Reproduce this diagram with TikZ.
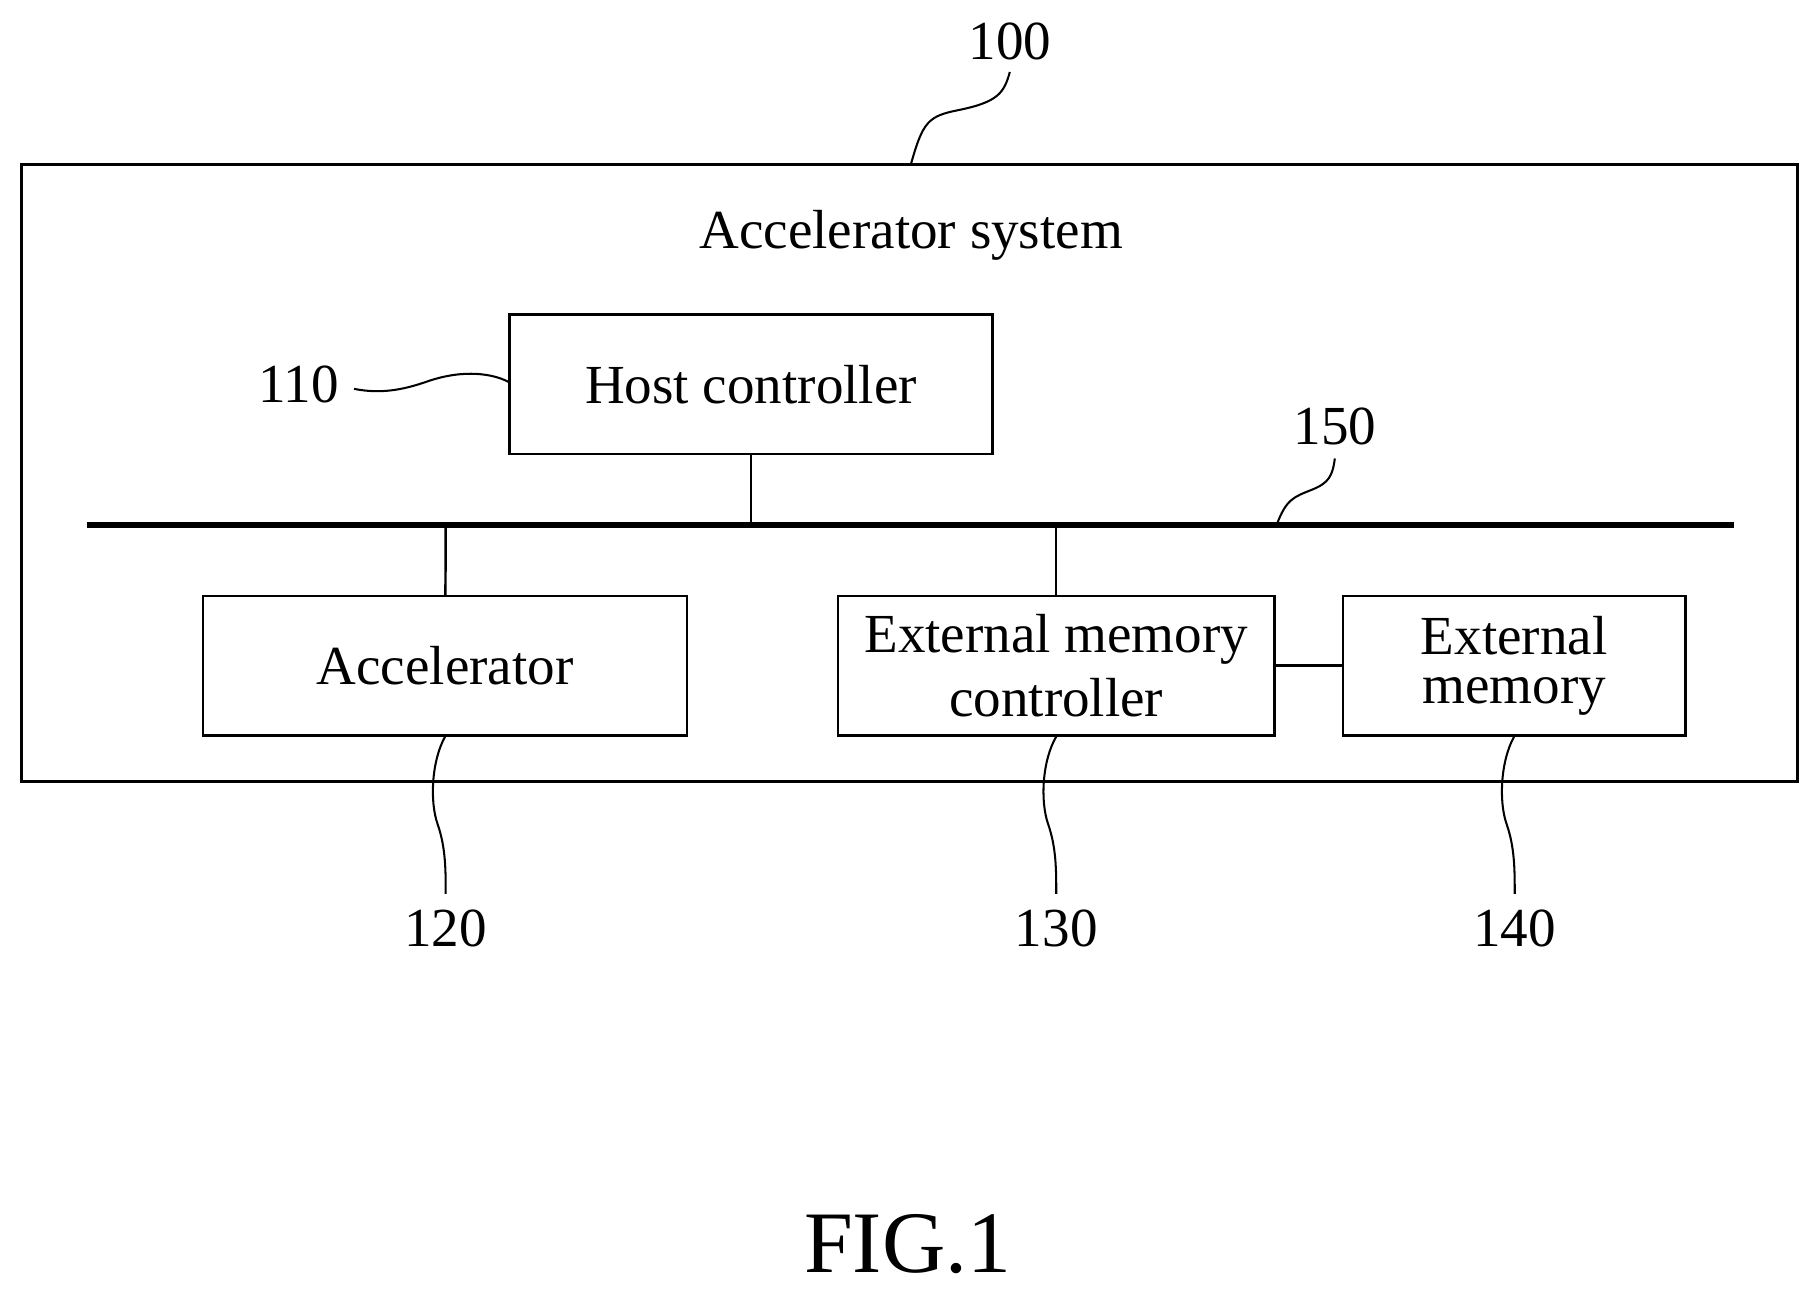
\documentclass[tikz,border=0pt]{standalone}
\usepackage{fontspec}
\setmainfont{Liberation Serif}
\tikzset{
  blk/.style={draw, line width=1.2pt, minimum height=2.4cm, inner sep=0pt},
  lbl/.style={font=\fontsize{27}{31}\selectfont},
  lead/.style={line width=1pt},
}
\begin{document}
\begin{tikzpicture}[x=0.02cm,y=-0.02cm]
        \useasboundingbox (0,0) rectangle (1568,1110);
        \node[draw, line width=1.5pt, minimum width=30.62cm, minimum height=10.62cm] (sys) at (783.5,407.5) {};
        \node[lbl] (title) at (785,203) {Accelerator system};
        \node[blk, lbl, minimum width=8.32cm] (host) at (647,331) {Host controller};
        \node[blk, lbl, minimum width=8.34cm] (acc) at (383.5,573.5) {Accelerator};
        \node[blk, lbl, minimum width=7.52cm, align=center] (emc) at (910,573.5) {External memory\\controller};
        \node[blk, lbl, minimum width=5.9cm, align=center] (mem) at (1304.5,573.5) {External\\[-7pt]memory};
        \coordinate (busl) at (75,452);
        \coordinate (busr) at (1494,452);
        \coordinate (bh) at (647,452);
        \coordinate (ba) at (384,452);
        \coordinate (be) at (910,452);
        \coordinate (b150) at (1100,452);

        \draw[line width=3pt] (busl) -- (busr);
        \draw[line width=1.2pt] (host) -- (bh);
        \draw[line width=1.2pt] (ba) -- (acc);
        \draw[line width=1.2pt] (be) -- (emc);
        \draw[line width=1.2pt] (emc) -- (mem);

        % reference numerals
        \node[lbl] (n100) at (870,36) {100};
        \node[lbl] (n110) at (257,331) {110};
        \node[lbl] (n150) at (1150,367) {150};
        \node[lbl] (n120) at (384,800) {120};
        \node[lbl] (n130) at (910,800) {130};
        \node[lbl] (n140) at (1305,800) {140};
        \node[font=\fontsize{43}{46}\selectfont] (fig) at (782,1072) {FIG.1};

        \draw[lead] (sys.north -| 785,0) .. controls (795,105) and (800,100) .. (825,95) .. controls (860,88) and (865,80) .. (870,62);
        \draw[lead] (305,335) .. controls (330,340) and (350,335) .. (370,328) .. controls (400,318) and (425,322) .. (host.west |- 0,329);
        \draw[lead] (b150) .. controls (1108,430) and (1115,428) .. (1130,422) .. controls (1145,416) and (1148,410) .. (1150,395);
        \draw[lead] (acc.south) .. controls (372,655) and (370,690) .. (377,710) .. controls (384,730) and (384,750) .. (384,770);
        \draw[lead] (emc.south) .. controls (898,655) and (896,690) .. (903,710) .. controls (910,730) and (910,750) .. (910,770);
        \draw[lead] (mem.south) .. controls (1293,655) and (1291,690) .. (1298,710) .. controls (1305,730) and (1305,750) .. (1305,770);
    \end{tikzpicture}
\end{document}
